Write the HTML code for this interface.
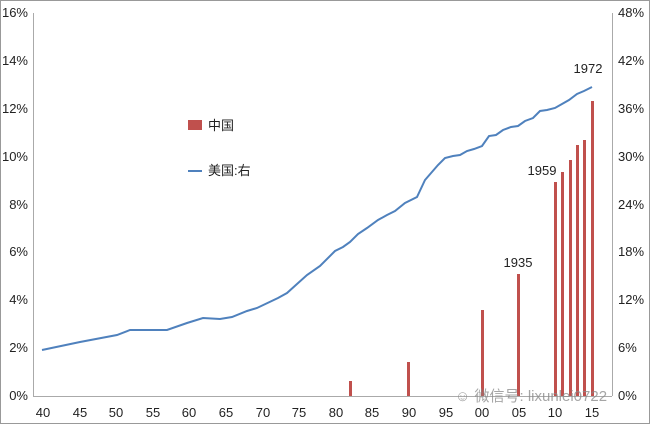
<!DOCTYPE html>
<html><head><meta charset="utf-8"><style>
body{margin:0;background:#fff}
svg{display:block;font-family:"Liberation Sans","Noto Sans CJK SC",sans-serif}
</style></head><body>
<svg width="650" height="424" viewBox="0 0 650 424">
<rect x="0.5" y="0.5" width="649" height="423" fill="#fff" stroke="#999"/>
<g stroke="#aaa" stroke-width="1">
<line x1="33.5" y1="13" x2="33.5" y2="396"/>
<line x1="612.5" y1="13" x2="612.5" y2="396"/>
<line x1="33" y1="396.5" x2="612" y2="396.5"/>
</g>
<g font-size="13" fill="#222" text-anchor="end">
<text x="28" y="400">0%</text><text x="28" y="352">2%</text><text x="28" y="304">4%</text><text x="28" y="256">6%</text><text x="28" y="209">8%</text><text x="28" y="161">10%</text><text x="28" y="113">12%</text><text x="28" y="65">14%</text><text x="28" y="17">16%</text>
</g>
<g font-size="13" fill="#222" text-anchor="start">
<text x="618" y="400">0%</text><text x="618" y="352">6%</text><text x="618" y="304">12%</text><text x="618" y="256">18%</text><text x="618" y="209">24%</text><text x="618" y="161">30%</text><text x="618" y="113">36%</text><text x="618" y="65">42%</text><text x="618" y="17">48%</text>
</g>
<g font-size="13" fill="#222" text-anchor="middle">
<text x="43" y="417">40</text><text x="80" y="417">45</text><text x="116" y="417">50</text><text x="153" y="417">55</text><text x="189" y="417">60</text><text x="226" y="417">65</text><text x="263" y="417">70</text><text x="299" y="417">75</text><text x="336" y="417">80</text><text x="372" y="417">85</text><text x="409" y="417">90</text><text x="446" y="417">95</text><text x="482" y="417">00</text><text x="519" y="417">05</text><text x="555" y="417">10</text><text x="592" y="417">15</text>
</g>
<g fill="#c0504d">
<rect x="349" y="381" width="3" height="15"/>
<rect x="407" y="362" width="3" height="34"/>
<rect x="481" y="310" width="3" height="86"/>
<rect x="517" y="274" width="3" height="122"/>
<rect x="554" y="182" width="3" height="214"/>
<rect x="561" y="172" width="3" height="224"/>
<rect x="569" y="160" width="3" height="236"/>
<rect x="576" y="145" width="3" height="251"/>
<rect x="583" y="140" width="3" height="256"/>
<rect x="591" y="101" width="3" height="295"/>
</g>
<polyline fill="none" stroke="#4f81bd" stroke-width="2" points="42,350 80,342 117,335 130,330 167,330 187,323 203,318 220,319 232,317 247,311 257,308 278,298 287,293 297,284 307,275 320,266 335,251 343,247 350,242 358,234 367,228 378,220 387,215 395,211 405,203 417,197 425,180 438,165 445,158 453,156 460,155 467,151 474,149 482,146 489,136 496,135 503,130 511,127 518,126 525,121 533,118 540,111 547,110 555,108 562,104 569,100 577,94 584,91 592,87"/>
<text x="518" y="267" font-size="13" fill="#222" text-anchor="middle">1935</text>
<text x="542" y="175" font-size="13" fill="#222" text-anchor="middle">1959</text>
<text x="588" y="73" font-size="13" fill="#222" text-anchor="middle">1972</text>
<rect x="188" y="120" width="14" height="10" fill="#c0504d"/>
<text x="208" y="130" font-size="13" fill="#222">中国</text>
<line x1="188" y1="171" x2="202" y2="171" stroke="#4f81bd" stroke-width="2"/>
<text x="208" y="175" font-size="13" fill="#222">美国:右</text>
<text x="455" y="401" font-size="15" fill="#888" opacity="0.75">☺ 微信号: lixunlei0722</text>
</svg>
</body></html>
